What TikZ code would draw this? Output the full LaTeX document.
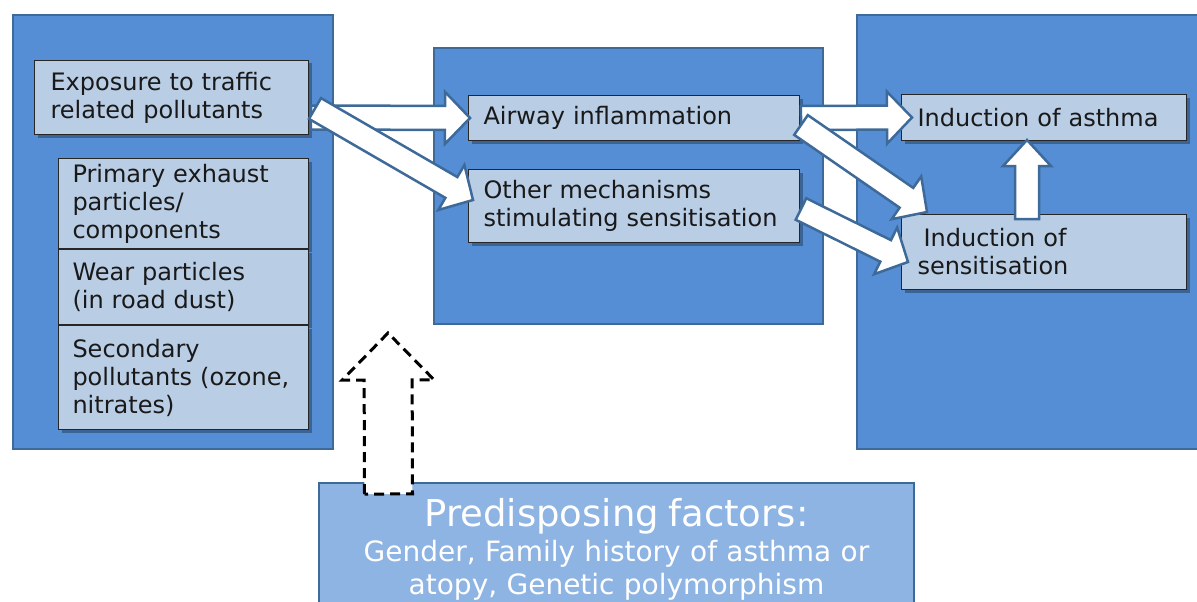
\documentclass[tikz,border=0pt]{standalone}
\usepackage{fontspec}
\setmainfont{DejaVu Sans}
\usetikzlibrary{calc,positioning,shadows}

\definecolor{panelblue}{RGB}{85,142,213}
\definecolor{edgeblue}{RGB}{62,106,154}
\definecolor{itemblue}{RGB}{185,205,229}
\definecolor{factorblue}{RGB}{142,180,227}

% block arrow: style, from, to, shaft half width, head half width, head length
\newcommand{\blockarrow}[6]{%
  \coordinate (hb) at ($(#3)!#6!(#2)$);
  \draw[#1] ($(#2)!#4!90:(#3)$) -- ($(hb)!#4!90:(#3)$) -- ($(hb)!#5!90:(#3)$) -- (#3)
    -- ($(hb)!#5!-90:(#3)$) -- ($(hb)!#4!-90:(#3)$) -- ($(#2)!#4!-90:(#3)$) -- cycle;
}

\begin{document}
\begin{tikzpicture}[x=1pt, y=-1pt,
    panel/.style={rectangle, draw=edgeblue, line width=2pt, fill=panelblue, inner sep=0pt, anchor=north west},
    item/.style={rectangle, draw=black!85, line width=1pt, fill=itemblue, anchor=north west, align=left,
        inner xsep=15pt, inner ysep=0pt, text=black!90, font=\fontsize{24}{28}\selectfont,
        drop shadow={shadow xshift=3pt, shadow yshift=-3pt, opacity=0.3, fill=black}},
    factor/.style={rectangle, draw=edgeblue, line width=2pt, fill=factorblue, text=white, align=center,
        text width=565pt, inner xsep=15pt, inner ysep=15pt, font=\fontsize{28}{33}\selectfont},
    barrow/.style={draw=edgeblue, line width=2.5pt, fill=white, line join=miter},
    dasharrow/.style={draw=black, line width=3pt, fill=white, dash pattern=on 10pt off 6pt, line join=miter}
]
\useasboundingbox (0,0) rectangle (1197,602);
\clip (0,0) rectangle (1197,602);
\fill[white] (0,0) rectangle (1197,602);

% Background panels
\node[panel, minimum width=320pt, minimum height=434pt] (lpanel) at (12,14) {};
\node[panel, minimum width=389pt, minimum height=276pt] (mpanel) at (433,47) {};
\node[panel, minimum width=360pt, minimum height=434pt] (rpanel) at (856,14) {};

% Exposure (left)
\node[item, minimum width=274pt, text width=242pt, minimum height=74pt, inner xsep=16pt] (expo) at (34,60) {Exposure to traffic\\related pollutants};
\node[item, minimum width=250pt, text width=222pt, minimum height=90pt, inner xsep=14pt] (prim) at (58,158) {Primary exhaust\\particles/\\components};
\node[item, minimum width=250pt, text width=222pt, minimum height=75pt, inner xsep=14pt, below=0pt of prim] (wear) {Wear particles\\(in road dust)};
\node[item, minimum width=250pt, text width=222pt, minimum height=104pt, inner xsep=14pt, below=0pt of wear] (second) {Secondary\\pollutants (ozone,\\nitrates)};

% Mechanisms (middle)
\node[item, minimum width=331pt, text width=301pt, minimum height=45pt] (air) at (468,95) {Airway inflammation};
\node[item, minimum width=331pt, text width=301pt, minimum height=73pt] (other) at (468,169) {Other mechanisms\\stimulating sensitisation};

% Outcomes (right)
\node[item, minimum width=285pt, text width=253pt, minimum height=46pt, inner xsep=16pt] (asthma) at (901,94) {Induction of asthma};
\node[item, minimum width=285pt, text width=253pt, minimum height=75pt, inner xsep=16pt] (sens) at (901,214) {\hspace*{6pt}Induction of\\sensitisation};

% Predisposing factors (bottom)
\node[factor, anchor=north] (fac) at (616.5,482) {{\fontsize{37}{38}\selectfont Predisposing factors:}\\[2pt]Gender, Family history of asthma or\\atopy, Genetic polymorphism};

% Arrow ends
\coordinate (a1s) at ([xshift=2pt, yshift=-20pt]expo.east);
\coordinate (a1t) at ([xshift=2pt]air.west);
\coordinate (a2s) at ([xshift=6pt, yshift=-11pt]expo.east);
\coordinate (a2t) at ([xshift=5pt, yshift=6pt]other.west);
\coordinate (a3s) at ([xshift=1pt]air.east);
\coordinate (a3t) at ([xshift=11pt]asthma.west);
\coordinate (a4s) at ([xshift=1pt, yshift=-7pt]air.east);
\coordinate (a4t) at ([xshift=26pt, yshift=2pt]sens.north west);
\coordinate (a5s) at ([xshift=1pt, yshift=-3pt]other.east);
\coordinate (a5t) at ([xshift=7pt, yshift=-10pt]sens.west);
\coordinate (a6s) at ([xshift=-17pt, yshift=-5pt]sens.north);
\coordinate (a6t) at ([xshift=-17pt, yshift=1pt]asthma.south);
\coordinate (dashs) at ([xshift=-228pt, yshift=-12pt]fac.north);
\coordinate (dasht) at (388,333);

\foreach \s/\t in {a1s/a1t, a2s/a2t, a3s/a3t, a4s/a4t, a5s/a5t} {
    \blockarrow{barrow}{\s}{\t}{12pt}{26pt}{25pt}
}
\blockarrow{barrow}{a6s}{a6t}{12pt}{24pt}{26pt}
\blockarrow{dasharrow}{dashs}{dasht}{24pt}{46pt}{47pt}

\end{tikzpicture}
\end{document}
